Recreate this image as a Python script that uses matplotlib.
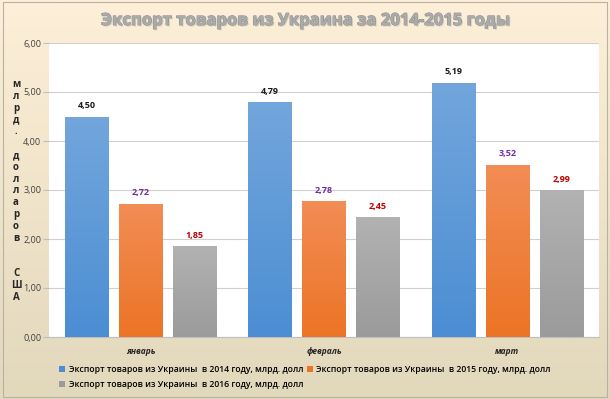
import numpy as np
import matplotlib
matplotlib.use("Agg")
import matplotlib.pyplot as plt
import matplotlib.patheffects as pe
from matplotlib.colors import LinearSegmentedColormap

plt.rcParams['font.family'] = ['Open Sans', 'DejaVu Sans']

categories = ["январь", "февраль", "март"]
series_names = [
    "Экспорт товаров из Украины  в 2014 году, млрд. долл",
    "Экспорт товаров из Украины  в 2015 году, млрд. долл",
    "Экспорт товаров из Украины  в 2016 году, млрд. долл",
]
values_2014 = [4.50, 4.79, 5.19]
values_2015 = [2.72, 2.78, 3.52]
values_2016 = [1.85, 2.45, 2.99]
yticks = [0, 1, 2, 3, 4, 5, 6]
title = "Экспорт товаров из Украина за 2014-2015 годы"
ylabel_lines = ["м", "л", "р", "д", ".", "", "д", "о", "л", "л", "а", "р",
                "о", "в", "", "", "С", "Ш", "А"]

series = [values_2014, values_2015, values_2016]
bar_top = ["#72A6DC", "#F28D55", "#B2B2B2"]
bar_bot = ["#4C8ED3", "#EC7426", "#9B9B9B"]
label_colors = ["#1A1A1A", "#7030A0", "#C00000"]

W, H = 610, 399
fig = plt.figure(figsize=(W / 100, H / 100), dpi=100)

# background gradient
bg = fig.add_axes([0, 0, 1, 1], zorder=-10)
bg_cmap = LinearSegmentedColormap.from_list("bg", ["#FDEFD8", "#E2D8BC"])
bg.imshow(np.linspace(0, 1, 256).reshape(-1, 1), aspect="auto", cmap=bg_cmap,
          extent=[0, 1, 0, 1])
bg.add_patch(plt.Rectangle((0.005, 0.006), 0.99, 0.988, fill=False,
                           ec="#B8B2A4", lw=0.8, transform=bg.transAxes))
bg.set_axis_off()

ax = fig.add_axes([49 / W, 62 / H, 550 / W, 294 / H])
ax.set_facecolor("white")

x = np.arange(len(categories))
width = 0.237
pitch = 0.294
offsets = [-pitch, 0, pitch]

handles = []
for i, vals in enumerate(series):
    bars = ax.bar(x + offsets[i], vals, width, color=bar_bot[i], zorder=3,
                  label=series_names[i])
    handles.append(bars)
    cmap = LinearSegmentedColormap.from_list(f"b{i}", [bar_bot[i], bar_top[i]])
    for b in bars:
        x0, y0 = b.get_x(), b.get_y()
        w, h = b.get_width(), b.get_height()
        im = ax.imshow(np.linspace(0, 1, 100).reshape(-1, 1), cmap=cmap,
                       origin="lower", aspect="auto",
                       extent=[x0, x0 + w, y0, y0 + h], zorder=3.5)
        im.set_clip_path(b)
    for b, v in zip(bars, vals):
        ax.annotate(f"{v:.2f}".replace(".", ","),
                    (b.get_x() + b.get_width() / 2, v),
                    xytext=(0, 4.5), textcoords="offset points",
                    ha="center", va="bottom", fontsize=6.5, fontweight="bold",
                    color=label_colors[i], zorder=5)

ax.set_xlim(-0.5, len(categories) - 0.5)
ax.set_ylim(0, 6)
ax.set_yticks(yticks)
ax.set_yticklabels([f"{t:.2f}".replace(".", ",") for t in yticks],
                   fontsize=6.5, color="#404040")
ax.set_xticks(x)
ax.set_xticklabels(categories, fontsize=6, fontweight="bold", style="italic",
                   color="#262626")
ax.tick_params(axis="y", length=4, color="#BFBFBF", width=0.8, pad=1.5)
ax.tick_params(axis="x", length=0, pad=7)
ax.grid(axis="y", color="#D0D0D0", lw=0.8, zorder=0)
ax.set_axisbelow(True)
for s in ["top", "right", "left"]:
    ax.spines[s].set_visible(False)
ax.spines["bottom"].set_color("#BFBFBF")
ax.spines["bottom"].set_linewidth(0.8)

# y label: stacked letters
fig.text(16 / W, 1 - 191 / H, "\n".join(ylabel_lines), ha="center",
         va="center", fontsize=7, fontweight="bold", color="#262626",
         linespacing=1.1)

# title
t = fig.text(0.5, 1 - 20 / H, title, ha="center", va="center", fontsize=12,
             fontweight="bold", color="#ABABAB")
t.set_path_effects([
    pe.SimplePatchShadow(offset=(1, -1), shadow_rgbFace="#CFC6B4", alpha=0.8),
    pe.Stroke(linewidth=0.7, foreground="#8C8C8C"),
    pe.Normal()])

leg_handles = [handles[0], handles[2], handles[1]]
leg_labels = [series_names[0], series_names[2], series_names[1]]
fig.legend(leg_handles, leg_labels, loc="center", ncol=2,
           bbox_to_anchor=(0.5, 1 - 377 / H), frameon=False,
           prop={"size": 6.2, "weight": "semibold"},
           handlelength=0.7, handleheight=0.7, handletextpad=0.4,
           columnspacing=0.4, labelspacing=0.75, borderaxespad=0)

fig.savefig("out.png", dpi=100)
